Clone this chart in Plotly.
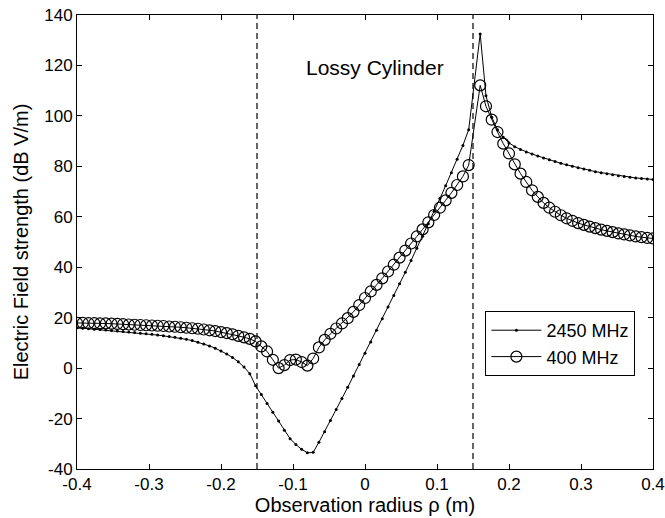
import plotly.graph_objects as go

# Observation radius (m)
rho = [
    -0.400, -0.392, -0.384, -0.376, -0.368, -0.360, -0.352, -0.344, -0.336, -0.328,
    -0.320, -0.312, -0.304, -0.296, -0.288, -0.280, -0.272, -0.264, -0.256, -0.248,
    -0.240, -0.232, -0.224, -0.216, -0.208, -0.200, -0.192, -0.184, -0.176, -0.168,
    -0.160, -0.152, -0.144, -0.136, -0.128, -0.120, -0.112, -0.104, -0.096, -0.088,
    -0.080, -0.072, -0.064, -0.056, -0.048, -0.040, -0.032, -0.024, -0.016, -0.008,
    0.000, 0.008, 0.016, 0.024, 0.032, 0.040, 0.048, 0.056, 0.064, 0.072,
    0.080, 0.088, 0.096, 0.104, 0.112, 0.120, 0.128, 0.136, 0.144,
    0.160, 0.168, 0.176, 0.184, 0.192, 0.200, 0.208, 0.216, 0.224, 0.232,
    0.240, 0.248, 0.256, 0.264, 0.272, 0.280, 0.288, 0.296, 0.304, 0.312,
    0.320, 0.328, 0.336, 0.344, 0.352, 0.360, 0.368, 0.376, 0.384, 0.392, 0.400,
]

# Electric field strength (dB V/m)
e_2450 = [
    16.0, 15.8, 15.6, 15.4, 15.3, 15.1, 14.9, 14.7, 14.5, 14.3,
    14.1, 13.8, 13.6, 13.4, 13.1, 12.8, 12.5, 12.2, 11.8, 11.4,
    10.9, 10.3, 9.6, 8.8, 7.9, 6.8, 5.6, 4.2, 2.5, 0.4,
    -2.2, -7.0, -10.5, -14.0, -17.5, -21.0, -24.6, -28.0, -30.3, -32.2,
    -33.6, -33.4, -29.4, -25.2, -20.8, -16.4, -12.0, -7.6, -3.1, 1.4,
    5.9, 10.4, 15.0, 19.6, 24.2, 28.8, 33.4, 38.0, 42.7, 47.5,
    52.3, 57.2, 62.2, 67.2, 72.3, 77.5, 82.8, 88.3, 94.5,
    132.5, 108.0, 99.5, 94.5, 91.5, 89.3, 87.8, 86.7, 85.7, 84.9,
    84.1, 83.3, 82.6, 81.9, 81.2, 80.6, 80.0, 79.4, 78.9, 78.4,
    77.9, 77.5, 77.1, 76.7, 76.3, 76.0, 75.7, 75.4, 75.2, 75.0, 74.8,
]

e_400 = [
    17.9, 17.9, 17.8, 17.8, 17.7, 17.7, 17.6, 17.5, 17.4, 17.3,
    17.2, 17.1, 17.0, 16.9, 16.8, 16.7, 16.5, 16.4, 16.2, 16.0,
    15.8, 15.6, 15.3, 15.0, 14.7, 14.3, 13.9, 13.4, 12.8, 12.2,
    11.6, 10.6, 8.6, 6.6, 3.3, 0.0, 1.2, 3.2, 3.4, 2.4,
    1.0, 3.8, 8.2, 11.2, 13.6, 15.7, 17.7, 19.8, 22.3, 25.0,
    27.8, 30.4, 33.0, 35.6, 38.3, 41.0, 43.8, 46.6, 49.4, 52.2,
    55.0, 57.8, 60.7, 63.6, 66.5, 69.5, 72.6, 76.0, 80.5,
    112.1, 103.8, 98.5, 93.6, 89.0, 85.1, 80.8, 77.1, 73.8, 70.5,
    67.9, 65.5, 63.6, 62.0, 60.6, 59.4, 58.4, 57.5, 56.8, 56.1,
    55.5, 54.9, 54.4, 53.9, 53.4, 53.0, 52.6, 52.2, 51.9, 51.6, 51.4,
]

cylinder_edges = [-0.15, 0.15]

x_tickvals = [-0.4, -0.3, -0.2, -0.1, 0, 0.1, 0.2, 0.3, 0.4]
x_ticktext = ["-0.4", "-0.3", "-0.2", "-0.1", "0", "0.1", "0.2", "0.3", "0.4"]
y_tickvals = [-40, -20, 0, 20, 40, 60, 80, 100, 120, 140]
y_ticktext = ["-40", "-20", "0", "20", "40", "60", "80", "100", "120", "140"]

FONT = "Liberation Sans, Arial, Helvetica, sans-serif"

fig = go.Figure()
fig.add_trace(go.Scatter(
    x=rho, y=e_2450, name="2450 MHz", mode="lines+markers",
    line=dict(color="black", width=1),
    marker=dict(symbol="circle", size=3, color="black"),
))
fig.add_trace(go.Scatter(
    x=rho, y=e_400, name="400 MHz", mode="lines+markers",
    line=dict(color="black", width=1),
    marker=dict(symbol="circle-open", size=11, color="black", line=dict(width=1.2, color="black")),
))

for xe in cylinder_edges:
    fig.add_shape(type="line", xref="x", yref="paper", x0=xe, x1=xe, y0=0, y1=1,
                  line=dict(color="black", width=1.2, dash="6px,4px"), layer="below")

fig.add_annotation(x=0.014, y=119, xref="x", yref="y", text="Lossy Cylinder",
                   showarrow=False, font=dict(family=FONT, size=21, color="black"))

axis_common = dict(
    showgrid=False, zeroline=False, showline=True, linecolor="black", linewidth=1,
    mirror="ticks", ticks="inside", ticklen=5, tickcolor="black", tickwidth=1,
    tickfont=dict(family=FONT, size=17, color="black"), automargin=False,
)

fig.update_layout(
    width=665, height=518,
    margin=dict(l=77, r=12, t=15, b=49),
    paper_bgcolor="white", plot_bgcolor="white",
    font=dict(family=FONT, color="black"),
    showlegend=True,
    legend=dict(x=0.709, y=0.348, xanchor="left", yanchor="top",
                bordercolor="black", borderwidth=1, bgcolor="white",
                font=dict(family=FONT, size=18, color="black"),
                tracegroupgap=0, itemwidth=50),
    xaxis=dict(range=[-0.4, 0.4], tickvals=x_tickvals, ticktext=x_ticktext,
               title=dict(text="Observation radius ρ (m)", font=dict(family=FONT, size=20), standoff=2),
               **axis_common),
    yaxis=dict(range=[-40, 140], tickvals=y_tickvals, ticktext=y_ticktext,
               title=dict(text="Electric Field strength (dB V/m)", font=dict(family=FONT, size=20), standoff=10),
               **axis_common),
)

fig.write_html("out.html", config={"displayModeBar": False},
               post_script="document.body.style.margin='0px';document.body.style.overflow='hidden';")
